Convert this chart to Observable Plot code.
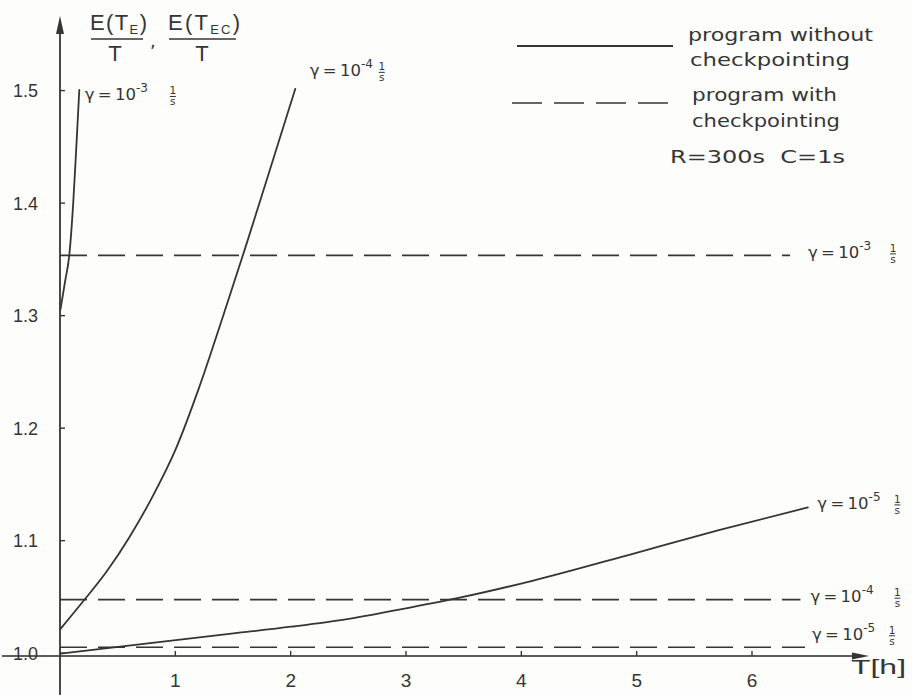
<!DOCTYPE html>
<html>
<head>
<meta charset="utf-8">
<script src="https://cdn.jsdelivr.net/npm/d3@7"></script>
<script src="https://cdn.jsdelivr.net/npm/@observablehq/plot@0.6"></script>
<style>
  html, body { margin: 0; padding: 0; background: #fdfdfc; }
</style>
</head>
<body>
<div id="chart"></div>
<script>
// ---------- data ----------
const xTicks = [1, 2, 3, 4, 5, 6];
const yTicks = [1.0, 1.1, 1.2, 1.3, 1.4, 1.5];
const yTickLabels = ["1.0", "1.1", "1.2", "1.3", "1.4", "1.5"];

// program without checkpointing, E(T_E)/T vs T [h]
const solidG3 = [[0, 1.306], [0.04, 1.331], [0.076, 1.354], [0.11, 1.40], [0.137, 1.45], [0.163, 1.501]];
const solidG4 = [[0, 1.022], [0.2, 1.047], [0.4, 1.073], [0.6, 1.104], [0.8, 1.14], [1.0, 1.182],
                 [1.2, 1.236], [1.4, 1.297], [1.6, 1.36], [1.8, 1.425], [2.036, 1.502]];
const solidG5 = [[0, 1.000], [0.5, 1.006], [1, 1.012], [1.5, 1.018], [2, 1.024], [2.5, 1.031],
                 [3.03, 1.041], [3.47, 1.050], [4.1, 1.065], [4.97, 1.089], [5.7, 1.1095], [6.48, 1.130]];

// program with checkpointing, E(T_EC)/T (constant)
const dashedLevels = [1.354, 1.048, 1.0057];
const dashedEnds = [6.33, 6.42, 6.46];

const exponents = ["3", "4", "5"];
const legendTexts = [["program without", "checkpointing"], ["program with", "checkpointing"]];
const paramText = "R=300s  C=1s";

// ---------- tables for the library ----------
const solidSeries = [solidG3, solidG4, solidG5];
const solidRows = solidSeries.flatMap((s, i) => s.map(([T, v]) => ({series: exponents[i], T, v})));
const dashedRows = dashedLevels.map((v, i) => ({series: exponents[i], v, end: dashedEnds[i]}));

const ink = "#353535";
const font = "'DejaVu Sans', sans-serif";
const numFont = "'Liberation Sans', sans-serif";

function decorations(index, scales, values, dimensions) {
  const {x, y} = scales;
  const g = d3.create("svg:g").attr("fill", ink).attr("font-family", font)
    .attr("text-anchor", "start").attr("font-size", 17);
  const ax = x(0), ay = y(0.9975);

  // axes with arrows
  g.append("line").attr("x1", ax).attr("x2", ax).attr("y1", ay + 39).attr("y2", 28)
    .attr("stroke", ink).attr("stroke-width", 1.8);
  g.append("path").attr("d", `M${ax},16 L${ax - 4},34 L${ax + 4},34 Z`);
  g.append("line").attr("x1", 2).attr("x2", 858).attr("y1", ay).attr("y2", ay)
    .attr("stroke", ink).attr("stroke-width", 1.8).attr("stroke-opacity", 0.8);
  g.append("path").attr("d", `M869,${ay} L852,${ay - 3.5} L852,${ay + 3.5} Z`);

  // ticks
  for (const t of xTicks) {
    g.append("line").attr("x1", x(t)).attr("x2", x(t)).attr("y1", ay).attr("y2", ay - 5)
      .attr("stroke", ink).attr("stroke-width", 1.4);
    g.append("text").attr("x", x(t)).attr("y", 687).attr("text-anchor", "middle")
      .attr("font-family", numFont).attr("font-size", 19).text(String(t));
  }
  yTicks.forEach((v, i) => {
    g.append("line").attr("x1", ax).attr("x2", ax + 5).attr("y1", y(v)).attr("y2", y(v))
      .attr("stroke", ink).attr("stroke-width", 1.4);
    g.append("text").attr("x", 38).attr("y", y(v)).attr("dy", "0.36em").attr("text-anchor", "end")
      .attr("font-family", numFont).attr("font-size", 18).text(yTickLabels[i]);
  });
  g.append("text").attr("x", 851).attr("y", 674).attr("font-family", numFont).attr("font-size", 20)
    .attr("textLength", 55).attr("lengthAdjust", "spacingAndGlyphs").text("T[h]");

  // y axis label: E(T_E)/T , E(T_EC)/T
  function frac(x0, sub, len, cx) {
    const t = g.append("text").attr("x", x0).attr("y", 30).attr("font-family", numFont)
      .attr("font-size", 22).attr("textLength", len).attr("lengthAdjust", "spacing");
    t.append("tspan").text("E(T");
    t.append("tspan").attr("font-size", 13).attr("dy", 4).text(sub);
    t.append("tspan").attr("dy", -4).text(")");
    g.append("line").attr("x1", x0 + 1).attr("x2", x0 + len - 4).attr("y1", 39).attr("y2", 39)
      .attr("stroke", ink).attr("stroke-width", 1.6);
    g.append("text").attr("x", cx).attr("y", 61).attr("text-anchor", "middle")
      .attr("font-family", numFont).attr("font-size", 22).text("T");
  }
  frac(90, "E", 57, 115);
  g.append("text").attr("x", 150).attr("y", 47).attr("font-size", 18).text(",");
  frac(168, "EC", 72, 202);

  // gamma labels
  function gammaLabel(px, py, exp, fracOff) {
    const t = g.append("text").attr("x", px).attr("y", py).attr("font-size", 16.5);
    t.append("tspan").text("γ\u2009=\u200910");
    t.append("tspan").attr("font-size", 12).attr("dy", -8).text("-" + exp);
    g.append("text").attr("x", px + fracOff).attr("y", py - 6).attr("font-size", 10.5)
      .attr("text-anchor", "middle").text("1");
    g.append("line").attr("x1", px + fracOff - 3).attr("x2", px + fracOff + 3)
      .attr("y1", py - 4).attr("y2", py - 4).attr("stroke", ink).attr("stroke-width", 1);
    g.append("text").attr("x", px + fracOff).attr("y", py + 5).attr("font-size", 10.5)
      .attr("text-anchor", "middle").text("s");
  }
  const ends = solidSeries.map(s => s[s.length - 1]);
  gammaLabel(x(ends[0][0]) + 6, y(ends[0][1]) + 11, exponents[0], 88);
  gammaLabel(x(ends[1][0]) + 15, y(ends[1][1]) - 12, exponents[1], 72);
  gammaLabel(x(ends[2][0]) + 10, y(ends[2][1]) + 2, exponents[2], 80);
  gammaLabel(x(dashedEnds[0]) + 18, y(dashedLevels[0]) + 3, exponents[0], 85);
  gammaLabel(x(dashedEnds[1]) + 10, y(dashedLevels[1]) + 3, exponents[1], 87);
  gammaLabel(x(dashedEnds[2]) + 7, y(dashedLevels[2]) - 7, exponents[2], 80);

  // legend
  g.append("line").attr("x1", 517).attr("x2", 673).attr("y1", 46).attr("y2", 46)
    .attr("stroke", ink).attr("stroke-width", 1.8);
  g.append("line").attr("x1", 512).attr("x2", 678).attr("y1", 103).attr("y2", 103)
    .attr("stroke", ink).attr("stroke-width", 1.7).attr("stroke-dasharray", "30,12");
  const leg = [
    [688, 41, 185, legendTexts[0][0]], [690, 66, 160, legendTexts[0][1]],
    [692, 101, 145, legendTexts[1][0]], [692, 127, 148, legendTexts[1][1]]
  ];
  for (const [lx, ly, len, s] of leg) {
    g.append("text").attr("x", lx).attr("y", ly).attr("font-size", 18)
      .attr("textLength", len).attr("lengthAdjust", "spacingAndGlyphs").text(s);
  }
  g.append("text").attr("x", 670).attr("y", 163).attr("font-size", 18)
    .attr("textLength", 175).attr("lengthAdjust", "spacingAndGlyphs").text(paramText);
  return g.node();
}

const chart = Plot.plot({
  width: 912,
  height: 697,
  marginLeft: 60,
  marginRight: 160,
  marginTop: 90.6,
  marginBottom: 41,
  x: {domain: [0, 6], axis: null},
  y: {domain: [0.9975, 1.5], axis: null},
  style: {background: "#fdfdfc", color: ink, fontFamily: font},
  marks: [
    Plot.ruleY(dashedRows, {y: "v", x1: d => 0, x2: "end", stroke: ink, strokeWidth: 1.7,
      strokeDasharray: "27,11"}),
    Plot.line(solidRows, {x: "T", y: "v", z: "series", stroke: ink, strokeWidth: 1.8,
      curve: "monotone-x"}),
    decorations
  ]
});
document.getElementById("chart").appendChild(chart);
</script>
</body>
</html>
